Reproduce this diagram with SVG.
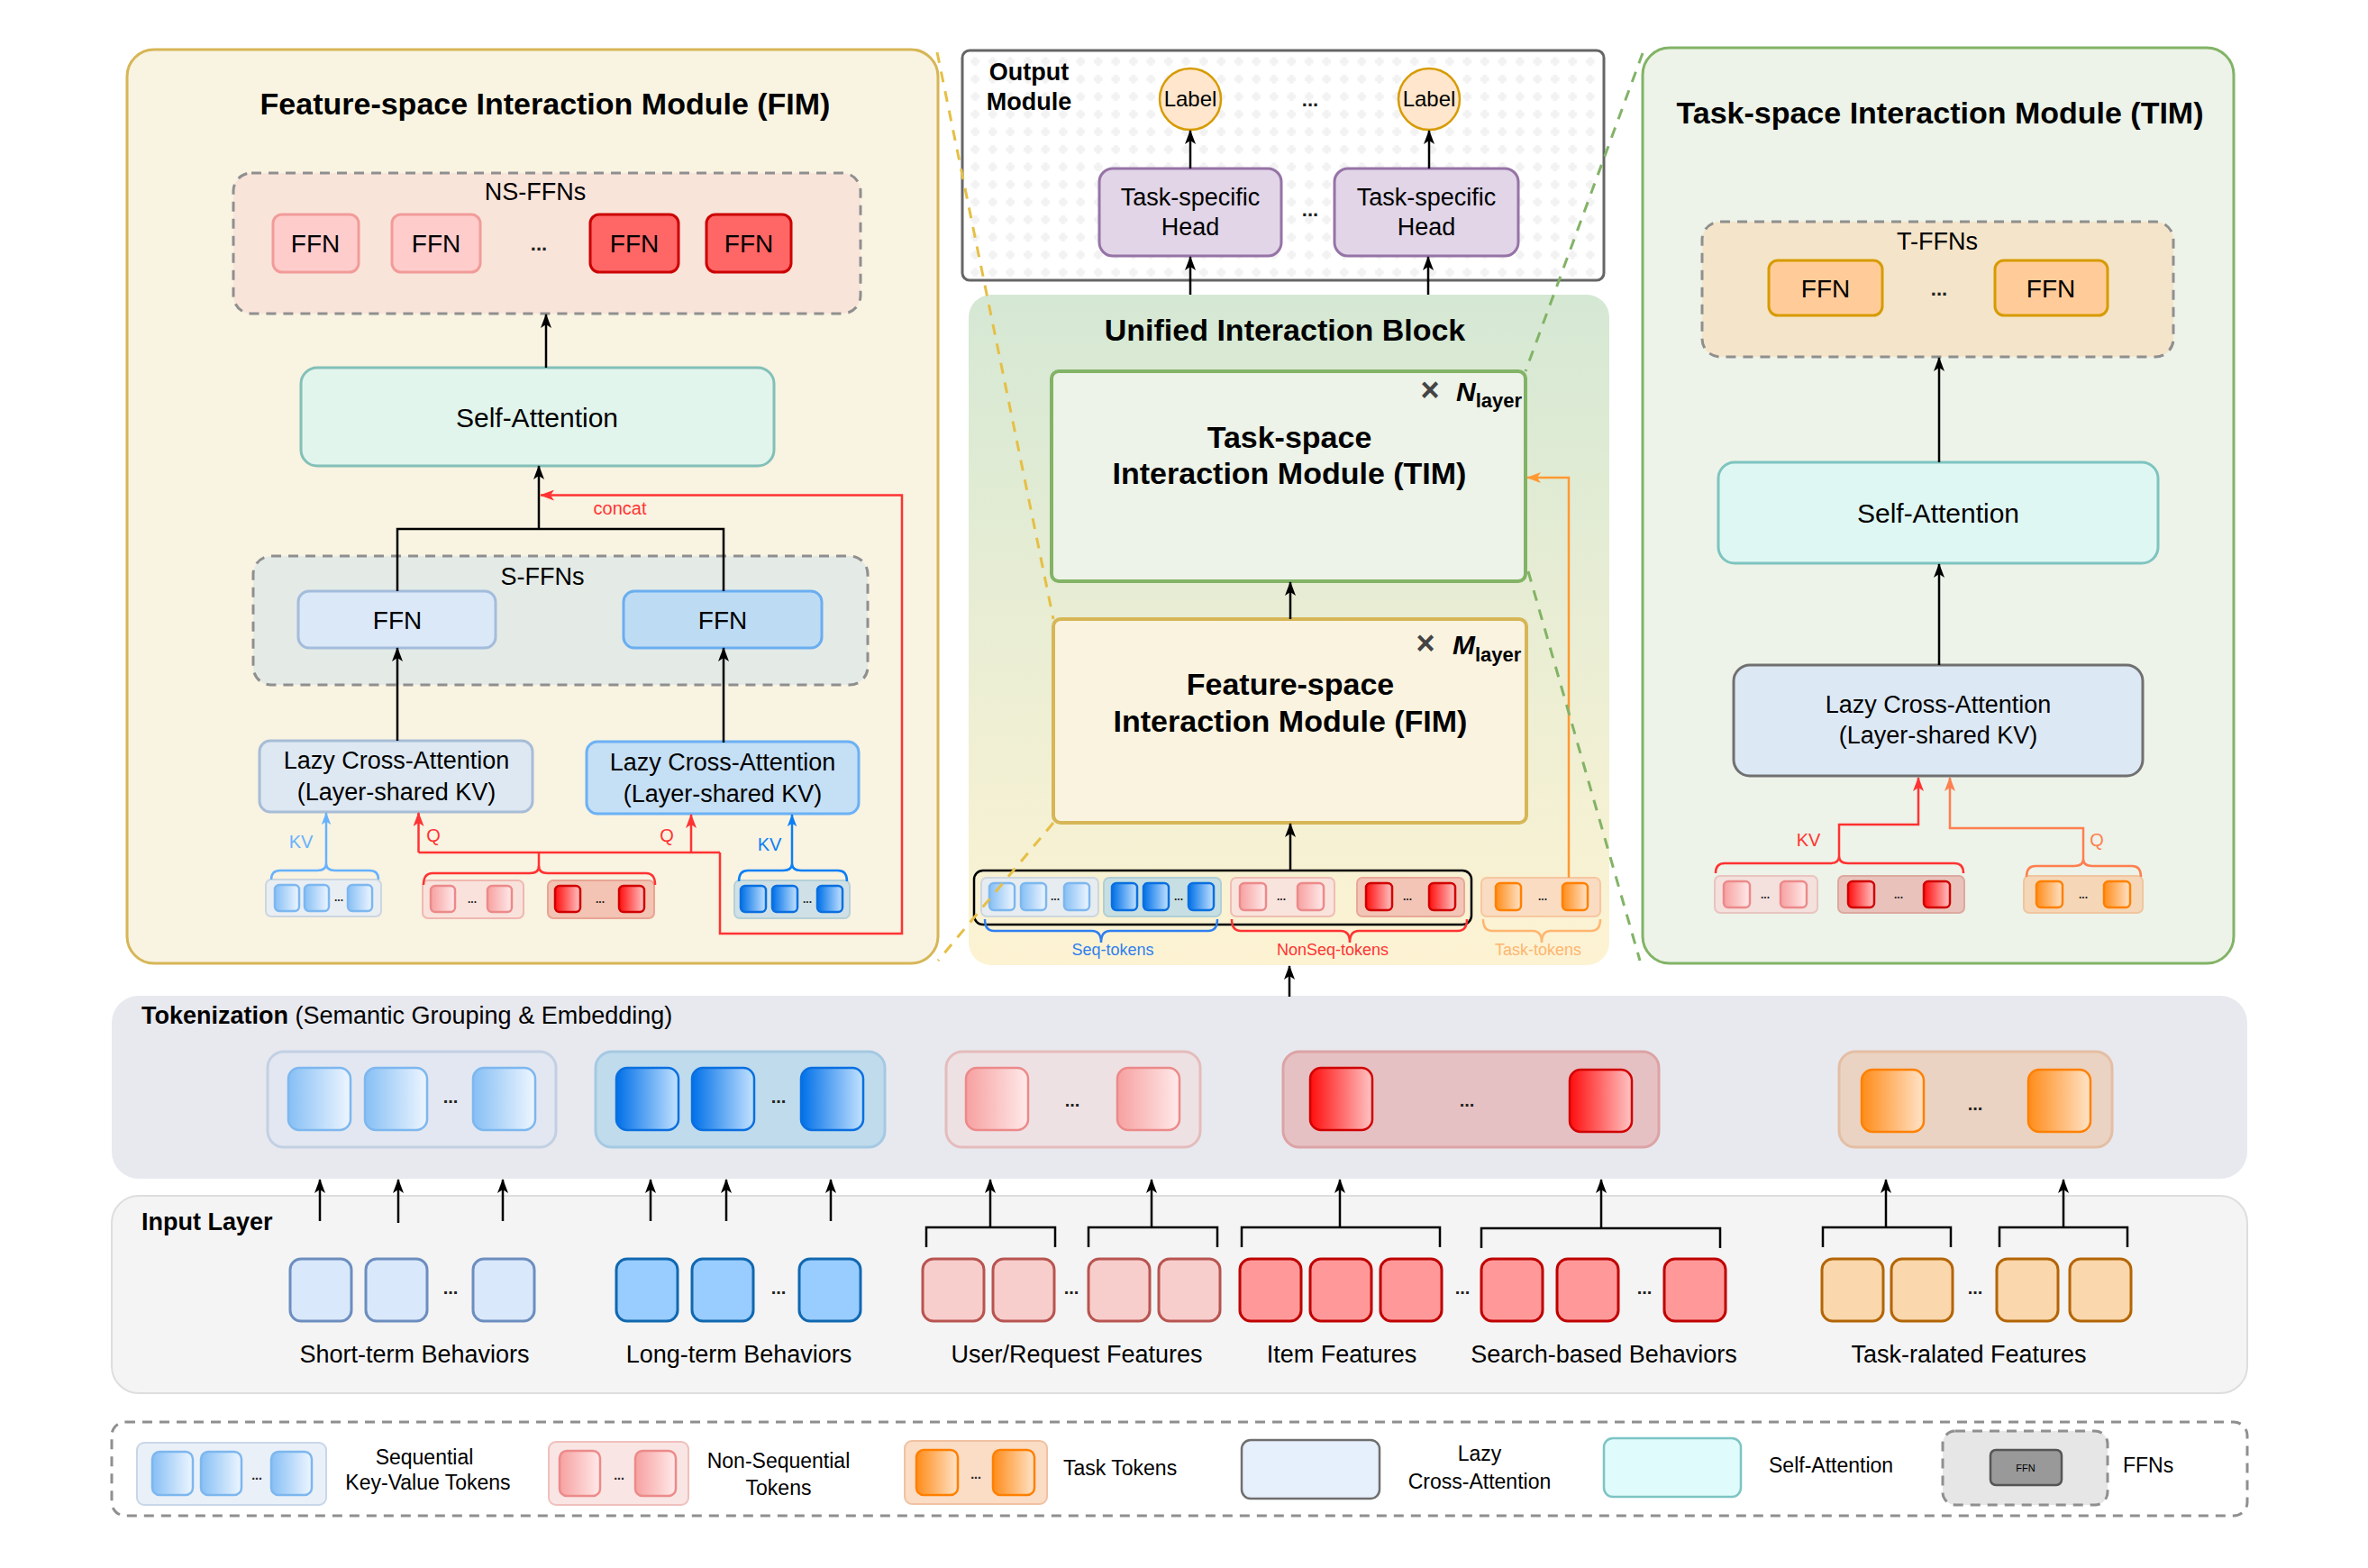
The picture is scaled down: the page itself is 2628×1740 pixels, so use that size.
<svg xmlns="http://www.w3.org/2000/svg" width="2628" height="1740" viewBox="0 0 2628 1740">
<defs>
<linearGradient id="gSS"><stop offset="0" stop-color="#86bff5"/><stop offset="1" stop-color="#eef6ff"/></linearGradient>
<linearGradient id="gSL"><stop offset="0" stop-color="#0070e8"/><stop offset="1" stop-color="#c3e2ff"/></linearGradient>
<linearGradient id="gNL"><stop offset="0" stop-color="#f7a0a0"/><stop offset="1" stop-color="#ffeaea"/></linearGradient>
<linearGradient id="gND"><stop offset="0" stop-color="#ff0d0d"/><stop offset="1" stop-color="#ffc4c4"/></linearGradient>
<linearGradient id="gT"><stop offset="0" stop-color="#ff8c1a"/><stop offset="1" stop-color="#ffe3c7"/></linearGradient>
<linearGradient id="gUIB" x1="0" y1="0" x2="0" y2="1"><stop offset="0" stop-color="#d5e8d4"/><stop offset="1" stop-color="#fdf3d3"/></linearGradient>
<pattern id="grid" width="19.5" height="19.5" patternUnits="userSpaceOnUse"><rect width="19.5" height="19.5" fill="#fff"/><rect x="7.5" y="5" width="4.5" height="9.5" fill="#f2f2f2"/><rect x="5" y="7.5" width="9.5" height="4.5" fill="#f2f2f2"/></pattern>
<marker id="ak" viewBox="0 0 16 12" refX="15" refY="6" markerWidth="16" markerHeight="12" markerUnits="userSpaceOnUse" orient="auto"><path d="M0,0 L16,6 L0,12 L4,6 Z" fill="#000"/></marker>
<marker id="ar" viewBox="0 0 16 12" refX="15" refY="6" markerWidth="16" markerHeight="12" markerUnits="userSpaceOnUse" orient="auto"><path d="M0,0 L16,6 L0,12 L4,6 Z" fill="#ff3333"/></marker>
<marker id="ab" viewBox="0 0 16 12" refX="15" refY="6" markerWidth="14" markerHeight="11" markerUnits="userSpaceOnUse" orient="auto"><path d="M0,0 L16,6 L0,12 L4,6 Z" fill="#66b2ff"/></marker>
<marker id="abd" viewBox="0 0 16 12" refX="15" refY="6" markerWidth="14" markerHeight="11" markerUnits="userSpaceOnUse" orient="auto"><path d="M0,0 L16,6 L0,12 L4,6 Z" fill="#0a7ff5"/></marker>
<marker id="ao" viewBox="0 0 16 12" refX="15" refY="6" markerWidth="16" markerHeight="12" markerUnits="userSpaceOnUse" orient="auto"><path d="M0,0 L16,6 L0,12 L4,6 Z" fill="#ff9933"/></marker>
<marker id="ac" viewBox="0 0 16 12" refX="15" refY="6" markerWidth="16" markerHeight="12" markerUnits="userSpaceOnUse" orient="auto"><path d="M0,0 L16,6 L0,12 L4,6 Z" fill="#ff7f50"/></marker>
</defs>
<style>
text{font-family:"Liberation Sans",Arial,Helvetica,sans-serif;fill:#000}
.b{font-weight:bold}
.c{text-anchor:middle}
.dots{font-weight:bold;text-anchor:middle;fill:#222}
.tSS{fill:url(#gSS);stroke:#7db7ef;stroke-width:2.5}
.tSL{fill:url(#gSL);stroke:#0a6fe0;stroke-width:2.5}
.tNL{fill:url(#gNL);stroke:#ec8a8a;stroke-width:2.5}
.tND{fill:url(#gND);stroke:#d00000;stroke-width:2.5}
.tT{fill:url(#gT);stroke:#ff8000;stroke-width:2.5}
.dash{stroke:#8f8f8f;stroke-width:3;stroke-dasharray:11 8}
.k{stroke:#000;stroke-width:2.5;fill:none}
.ka{stroke:#000;stroke-width:2.5;fill:none;marker-end:url(#ak)}
.ra{stroke:#ff3333;stroke-width:2.5;fill:none}
.in1{fill:#dae8fc;stroke:#6c8ebf;stroke-width:3}
.in2{fill:#99ccff;stroke:#1068b0;stroke-width:3}
.in3{fill:#f8cecc;stroke:#b85450;stroke-width:3}
.in4{fill:#ff9999;stroke:#c00000;stroke-width:3}
.in5{fill:#fad7ac;stroke:#b46504;stroke-width:3}
.lab{font-size:27px}
</style>
<rect width="2628" height="1740" fill="#fff"/>

<g id="tokenization">
<rect x="124" y="1105" width="2370" height="203" rx="30" fill="#e8e9ef"/>
<text x="157" y="1136" font-size="27"><tspan class="b">Tokenization</tspan> (Semantic Grouping &amp; Embedding)</text>
<rect x="297" y="1167" width="320" height="106" rx="18" fill="#e2e7f1" stroke="#c2d0e3" stroke-width="3"/>
<rect class="tSS" x="320" y="1185" width="69" height="69" rx="12"/><rect class="tSS" x="405" y="1185" width="69" height="69" rx="12"/><rect class="tSS" x="525" y="1185" width="69" height="69" rx="12"/>
<text class="dots" x="500" y="1224" font-size="20">...</text>
<rect x="661" y="1167" width="321" height="106" rx="18" fill="#bfdbec" stroke="#a5c9e2" stroke-width="3"/>
<rect class="tSL" x="684" y="1185" width="69" height="69" rx="12"/><rect class="tSL" x="768" y="1185" width="69" height="69" rx="12"/><rect class="tSL" x="889" y="1185" width="69" height="69" rx="12"/>
<text class="dots" x="864" y="1224" font-size="20">...</text>
<rect x="1050" y="1167" width="282" height="106" rx="18" fill="#eee1e4" stroke="#e4bcbc" stroke-width="3"/>
<rect class="tNL" x="1072" y="1185" width="69" height="69" rx="12"/><rect class="tNL" x="1240" y="1185" width="69" height="69" rx="12"/>
<text class="dots" x="1190" y="1228" font-size="20">...</text>
<rect x="1424" y="1167" width="417" height="106" rx="18" fill="#e6c1c3" stroke="#dca3a5" stroke-width="3"/>
<rect class="tND" x="1454" y="1185" width="69" height="69" rx="12"/><rect class="tND" x="1742" y="1187" width="69" height="69" rx="12"/>
<text class="dots" x="1628" y="1228" font-size="20">...</text>
<rect x="2041" y="1167" width="303" height="106" rx="18" fill="#ead3c2" stroke="#e4bea4" stroke-width="3"/>
<rect class="tT" x="2066" y="1187" width="69" height="69" rx="12"/><rect class="tT" x="2251" y="1187" width="69" height="69" rx="12"/>
<text class="dots" x="2192" y="1232" font-size="20">...</text>
</g>

<g id="input-layer">
<rect x="124" y="1327" width="2370" height="219" rx="30" fill="#f4f4f4" stroke="#dedede" stroke-width="2"/>
<text x="157" y="1365" class="b" font-size="27">Input Layer</text>
<rect class="in1" x="322" y="1397" width="68" height="69" rx="12"/><rect class="in1" x="406" y="1397" width="68" height="69" rx="12"/><rect class="in1" x="525" y="1397" width="68" height="69" rx="12"/>
<text class="dots" x="500" y="1436" font-size="20">...</text>
<rect class="in2" x="684" y="1397" width="68" height="69" rx="12"/><rect class="in2" x="768" y="1397" width="68" height="69" rx="12"/><rect class="in2" x="887" y="1397" width="68" height="69" rx="12"/>
<text class="dots" x="864" y="1436" font-size="20">...</text>
<rect class="in3" x="1024" y="1397" width="68" height="69" rx="12"/><rect class="in3" x="1102" y="1397" width="68" height="69" rx="12"/><rect class="in3" x="1208" y="1397" width="68" height="69" rx="12"/><rect class="in3" x="1286" y="1397" width="68" height="69" rx="12"/>
<text class="dots" x="1189" y="1436" font-size="20">...</text>
<rect class="in4" x="1376" y="1397" width="68" height="69" rx="12"/><rect class="in4" x="1454" y="1397" width="68" height="69" rx="12"/><rect class="in4" x="1532" y="1397" width="68" height="69" rx="12"/>
<text class="dots" x="1623" y="1436" font-size="20">...</text>
<rect class="in4" x="1644" y="1397" width="68" height="69" rx="12"/><rect class="in4" x="1728" y="1397" width="68" height="69" rx="12"/><rect class="in4" x="1847" y="1397" width="68" height="69" rx="12"/>
<text class="dots" x="1825" y="1436" font-size="20">...</text>
<rect class="in5" x="2022" y="1397" width="68" height="69" rx="12"/><rect class="in5" x="2099" y="1397" width="68" height="69" rx="12"/><rect class="in5" x="2216" y="1397" width="68" height="69" rx="12"/><rect class="in5" x="2297" y="1397" width="68" height="69" rx="12"/>
<text class="dots" x="2192" y="1436" font-size="20">...</text>
<text class="lab c" x="460" y="1512">Short-term Behaviors</text>
<text class="lab c" x="820" y="1512">Long-term Behaviors</text>
<text class="lab c" x="1195" y="1512">User/Request Features</text>
<text class="lab c" x="1489" y="1512">Item Features</text>
<text class="lab c" x="1780" y="1512">Search-based Behaviors</text>
<text class="lab c" x="2185" y="1512">Task-ralated Features</text>
</g>

<g id="legend">
<rect x="124" y="1578" width="2370" height="104" rx="15" fill="none" class="dash"/>
<rect x="152" y="1601" width="210" height="69" rx="8" fill="#eaf0f8" stroke="#c8d6e8" stroke-width="2"/>
<rect class="tSS" x="169" y="1611" width="45" height="48" rx="8"/><rect class="tSS" x="223" y="1611" width="45" height="48" rx="8"/><rect class="tSS" x="301" y="1611" width="45" height="48" rx="8"/>
<text class="dots" x="285" y="1642" font-size="14">...</text>
<text class="c" x="471" y="1625" font-size="23">Sequential</text>
<text class="c" x="475" y="1653" font-size="23">Key-Value Tokens</text>
<rect x="609" y="1600" width="155" height="70" rx="8" fill="#f9e5e4" stroke="#efc0bd" stroke-width="2"/>
<rect class="tNL" x="621" y="1610" width="45" height="50" rx="8"/><rect class="tNL" x="705" y="1610" width="45" height="50" rx="8"/>
<text class="dots" x="687" y="1642" font-size="14">...</text>
<text class="c" x="864" y="1629" font-size="23">Non-Sequential</text>
<text class="c" x="864" y="1659" font-size="23">Tokens</text>
<rect x="1004" y="1599" width="158" height="70" rx="8" fill="#fbdcc5" stroke="#f0c2a2" stroke-width="2"/>
<rect class="tT" x="1017" y="1609" width="46" height="50" rx="8"/><rect class="tT" x="1102" y="1609" width="46" height="50" rx="8"/>
<text class="dots" x="1083" y="1641" font-size="14">...</text>
<text x="1180" y="1637" font-size="23">Task Tokens</text>
<rect x="1378" y="1598" width="153" height="65" rx="10" fill="#e6effc" stroke="#6f6f6f" stroke-width="2.5"/>
<text class="c" x="1642" y="1621" font-size="23">Lazy</text>
<text class="c" x="1642" y="1652" font-size="23">Cross-Attention</text>
<rect x="1780" y="1596" width="152" height="65" rx="10" fill="#e0fbfb" stroke="#7ec4c4" stroke-width="2.5"/>
<text x="1963" y="1634" font-size="23">Self-Attention</text>
<rect x="2156" y="1588" width="183" height="82" rx="14" fill="#e6e6e6" class="dash"/>
<rect x="2209" y="1609" width="79" height="39" rx="6" fill="#999" stroke="#555" stroke-width="2.5"/>
<text class="c" x="2248" y="1633" font-size="11">FFN</text>
<text x="2356" y="1634" font-size="23">FFNs</text>
</g>

<g id="fim-panel">
<rect x="141" y="55" width="900" height="1014" rx="30" fill="#f9f3e1" stroke="#d6b656" stroke-width="3"/>
<text class="b c" x="605" y="127" font-size="34">Feature-space Interaction Module (FIM)</text>
<g id="ns-ffns">
<rect x="259" y="192" width="696" height="156" rx="20" fill="#f9e4da" class="dash"/>
<text class="c" x="594" y="222" font-size="27">NS-FFNs</text>
<rect x="303" y="238" width="95" height="64" rx="10" fill="#ffcccc" stroke="#f19c99" stroke-width="3"/>
<rect x="435" y="238" width="98" height="64" rx="10" fill="#ffcccc" stroke="#f19c99" stroke-width="3"/>
<rect x="655" y="238" width="98" height="64" rx="10" fill="#ff6666" stroke="#cc0000" stroke-width="3"/>
<rect x="784" y="238" width="94" height="64" rx="10" fill="#ff6666" stroke="#cc0000" stroke-width="3"/>
<text class="c" x="350" y="280" font-size="28">FFN</text>
<text class="c" x="484" y="280" font-size="28">FFN</text>
<text class="c" x="704" y="280" font-size="28">FFN</text>
<text class="c" x="831" y="280" font-size="28">FFN</text>
<text class="dots" x="598" y="278" font-size="22">...</text>
</g>
<g id="fim-self-attention">
<rect x="334" y="408" width="525" height="109" rx="18" fill="#e2f5ec" stroke="#82c0b8" stroke-width="3"/>
<text class="c" x="596" y="474" font-size="30">Self-Attention</text>
</g>
<g id="s-ffns">
<rect x="281" y="617" width="682" height="143" rx="20" fill="#e4eae6" class="dash"/>
<text class="c" x="602" y="649" font-size="27">S-FFNs</text>
<rect x="331" y="656" width="219" height="63" rx="12" fill="#dae8f8" stroke="#a4bcdc" stroke-width="3"/>
<text class="c" x="441" y="698" font-size="28">FFN</text>
<rect x="692" y="656" width="220" height="63" rx="12" fill="#bddcf4" stroke="#6aaef0" stroke-width="3"/>
<text class="c" x="802" y="698" font-size="28">FFN</text>
</g>
<g id="fim-lca-1">
<rect x="288" y="822" width="303" height="79" rx="12" fill="#dde8f2" stroke="#a7bcd6" stroke-width="3"/>
<text class="c" x="440" y="853" font-size="27">Lazy Cross-Attention</text>
<text class="c" x="440" y="888" font-size="27">(Layer-shared KV)</text>
</g>
<g id="fim-lca-2">
<rect x="651" y="823" width="302" height="80" rx="12" fill="#c5dff4" stroke="#6cb1f5" stroke-width="3"/>
<text class="c" x="802" y="855" font-size="27">Lazy Cross-Attention</text>
<text class="c" x="802" y="890" font-size="27">(Layer-shared KV)</text>
</g>
<g id="fim-tokens">
<rect x="295" y="976" width="128" height="41" rx="6" fill="#e9eef3" stroke="#cbd6e0" stroke-width="2"/>
<rect class="tSS" x="305" y="982" width="27" height="29" rx="5"/><rect class="tSS" x="338" y="982" width="27" height="29" rx="5"/><rect class="tSS" x="386" y="982" width="27" height="29" rx="5"/>
<text class="dots" x="376" y="1000" font-size="12">...</text>
<rect x="469" y="977" width="112" height="42" rx="6" fill="#f9e2dc" stroke="#efb8b0" stroke-width="2"/>
<rect class="tNL" x="478" y="983" width="27" height="29" rx="5"/><rect class="tNL" x="541" y="983" width="27" height="29" rx="5"/>
<text class="dots" x="524" y="1002" font-size="12">...</text>
<rect x="608" y="977" width="118" height="42" rx="6" fill="#f3c3b3" stroke="#e8a595" stroke-width="2"/>
<rect class="tND" x="616" y="983" width="28" height="29" rx="5"/><rect class="tND" x="687" y="983" width="28" height="29" rx="5"/>
<text class="dots" x="666" y="1002" font-size="12">...</text>
<rect x="815" y="977" width="128" height="42" rx="6" fill="#cfe1e6" stroke="#b6d0d7" stroke-width="2"/>
<rect class="tSL" x="822" y="983" width="28" height="29" rx="5"/><rect class="tSL" x="857" y="983" width="28" height="29" rx="5"/><rect class="tSL" x="907" y="983" width="28" height="29" rx="5"/>
<text class="dots" x="896" y="1002" font-size="12">...</text>
</g>
<text x="688" y="571" class="c" font-size="20" style="fill:#ff3333">concat</text>
<text x="334" y="941" class="c" font-size="20" style="fill:#66b2ff">KV</text>
<text x="481" y="934" class="c" font-size="20" style="fill:#ff3333">Q</text>
<text x="740" y="934" class="c" font-size="20" style="fill:#ff3333">Q</text>
<text x="854" y="944" class="c" font-size="20" style="fill:#0a7ff5">KV</text>
</g>

<g id="output-module">
<rect x="1068" y="56" width="712" height="255" rx="8" fill="url(#grid)" stroke="#666" stroke-width="3"/>
<text class="b c" x="1142" y="89" font-size="27">Output</text>
<text class="b c" x="1142" y="122" font-size="27">Module</text>
<g id="label-1"><circle cx="1321" cy="110" r="34" fill="#ffe6cc" stroke="#d79b00" stroke-width="2.5"/><text class="c" x="1321" y="118" font-size="24">Label</text></g>
<g id="label-2"><circle cx="1586" cy="110" r="34" fill="#ffe6cc" stroke="#d79b00" stroke-width="2.5"/><text class="c" x="1586" y="118" font-size="24">Label</text></g>
<text class="dots" x="1454" y="118" font-size="22">...</text>
<g id="head-1"><rect x="1220" y="187" width="202" height="97" rx="15" fill="#e1d5e7" stroke="#9673a6" stroke-width="3"/>
<text class="c" x="1321" y="228" font-size="27">Task-specific</text><text class="c" x="1321" y="261" font-size="27">Head</text></g>
<g id="head-2"><rect x="1481" y="187" width="204" height="97" rx="15" fill="#e1d5e7" stroke="#9673a6" stroke-width="3"/>
<text class="c" x="1583" y="228" font-size="27">Task-specific</text><text class="c" x="1583" y="261" font-size="27">Head</text></g>
<text class="dots" x="1454" y="240" font-size="22">...</text>
</g>

<g id="unified-interaction-block">
<rect x="1075" y="327" width="711" height="744" rx="25" fill="url(#gUIB)"/>
<text class="b c" x="1426" y="378" font-size="34">Unified Interaction Block</text>
<g id="uib-tim">
<rect x="1167" y="412" width="526" height="233" rx="8" fill="#edf3e8" stroke="#82b366" stroke-width="4"/>
<text class="b c" x="1587" y="445" font-size="36" style="fill:#444">×</text>
<text class="b" x="1616" y="445" font-size="30" font-style="italic">N<tspan font-size="22" font-style="normal" dy="7">layer</tspan></text>
<text class="b c" x="1431" y="497" font-size="34">Task-space</text>
<text class="b c" x="1431" y="537" font-size="34">Interaction Module (TIM)</text>
</g>
<g id="uib-fim">
<rect x="1169" y="687" width="525" height="226" rx="8" fill="#faf3e0" stroke="#d6b656" stroke-width="4"/>
<text class="b c" x="1582" y="726" font-size="36" style="fill:#444">×</text>
<text class="b" x="1612" y="726" font-size="30" font-style="italic">M<tspan font-size="22" font-style="normal" dy="8">layer</tspan></text>
<text class="b c" x="1432" y="771" font-size="34">Feature-space</text>
<text class="b c" x="1432" y="812" font-size="34">Interaction Module (FIM)</text>
</g>
<g id="uib-tokens">
<rect x="1081" y="966" width="552" height="60" rx="10" fill="none" stroke="#000" stroke-width="2.5"/>
<rect x="1089" y="974" width="130" height="43" rx="6" fill="#e6ecf0" stroke="#cdd7df" stroke-width="2"/>
<rect class="tSS" x="1098" y="980" width="28" height="30" rx="5"/><rect class="tSS" x="1133" y="980" width="28" height="30" rx="5"/><rect class="tSS" x="1181" y="980" width="28" height="30" rx="5"/>
<text class="dots" x="1171" y="999" font-size="12">...</text>
<rect x="1225" y="974" width="130" height="43" rx="6" fill="#c7dfe3" stroke="#b0cfd6" stroke-width="2"/>
<rect class="tSL" x="1234" y="980" width="28" height="30" rx="5"/><rect class="tSL" x="1269" y="980" width="28" height="30" rx="5"/><rect class="tSL" x="1319" y="980" width="28" height="30" rx="5"/>
<text class="dots" x="1308" y="999" font-size="12">...</text>
<rect x="1366" y="974" width="115" height="43" rx="6" fill="#f9e3dd" stroke="#efbdb4" stroke-width="2"/>
<rect class="tNL" x="1376" y="980" width="29" height="30" rx="5"/><rect class="tNL" x="1440" y="980" width="29" height="30" rx="5"/>
<text class="dots" x="1422" y="999" font-size="12">...</text>
<rect x="1506" y="974" width="119" height="43" rx="6" fill="#f3c5b6" stroke="#e9a898" stroke-width="2"/>
<rect class="tND" x="1516" y="980" width="29" height="30" rx="5"/><rect class="tND" x="1586" y="980" width="29" height="30" rx="5"/>
<text class="dots" x="1562" y="999" font-size="12">...</text>
<rect x="1644" y="974" width="132" height="43" rx="6" fill="#fadcc2" stroke="#f6c7a0" stroke-width="2"/>
<rect class="tT" x="1660" y="980" width="28" height="30" rx="5"/><rect class="tT" x="1734" y="980" width="28" height="30" rx="5"/>
<text class="dots" x="1712" y="999" font-size="12">...</text>
<text class="c" x="1235" y="1060" font-size="18" style="fill:#2f7fef">Seq-tokens</text>
<text class="c" x="1479" y="1060" font-size="18" style="fill:#ff3333">NonSeq-tokens</text>
<text class="c" x="1707" y="1060" font-size="18" style="fill:#ffb570">Task-tokens</text>
</g>
</g>

<g id="tim-panel">
<rect x="1823" y="53" width="656" height="1016" rx="30" fill="#edf3e8" stroke="#82b366" stroke-width="3"/>
<text class="b c" x="2153" y="137" font-size="34">Task-space Interaction Module (TIM)</text>
<g id="t-ffns">
<rect x="1889" y="246" width="523" height="150" rx="20" fill="#f4e4c9" class="dash"/>
<text class="c" x="2150" y="277" font-size="27">T-FFNs</text>
<rect x="1963" y="289" width="126" height="61" rx="10" fill="#ffcc99" stroke="#d79b00" stroke-width="3"/>
<text class="c" x="2026" y="330" font-size="28">FFN</text>
<rect x="2214" y="289" width="125" height="61" rx="10" fill="#ffcc99" stroke="#d79b00" stroke-width="3"/>
<text class="c" x="2276" y="330" font-size="28">FFN</text>
<text class="dots" x="2152" y="328" font-size="22">...</text>
</g>
<g id="tim-self-attention">
<rect x="1907" y="513" width="488" height="112" rx="18" fill="#dff7f3" stroke="#7ec4c0" stroke-width="3"/>
<text class="c" x="2151" y="580" font-size="30">Self-Attention</text>
</g>
<g id="tim-lca">
<rect x="1924" y="738" width="454" height="123" rx="18" fill="#dce8f4" stroke="#707070" stroke-width="3"/>
<text class="c" x="2151" y="791" font-size="27">Lazy Cross-Attention</text>
<text class="c" x="2151" y="825" font-size="27">(Layer-shared KV)</text>
</g>
<g id="tim-tokens">
<rect x="1903" y="972" width="114" height="41" rx="6" fill="#f4e0dd" stroke="#e8c4c0" stroke-width="2"/>
<rect class="tNL" x="1913" y="978" width="29" height="29" rx="5"/><rect class="tNL" x="1976" y="978" width="29" height="29" rx="5"/>
<text class="dots" x="1959" y="997" font-size="12">...</text>
<rect x="2040" y="972" width="140" height="41" rx="6" fill="#e9c3bb" stroke="#dca89f" stroke-width="2"/>
<rect class="tND" x="2051" y="978" width="29" height="29" rx="5"/><rect class="tND" x="2135" y="978" width="29" height="29" rx="5"/>
<text class="dots" x="2107" y="997" font-size="12">...</text>
<rect x="2246" y="972" width="132" height="41" rx="6" fill="#f5d7b8" stroke="#efc59f" stroke-width="2"/>
<rect class="tT" x="2260" y="978" width="29" height="29" rx="5"/><rect class="tT" x="2335" y="978" width="29" height="29" rx="5"/>
<text class="dots" x="2312" y="997" font-size="12">...</text>
</g>
<text x="2007" y="939" class="c" font-size="20" style="fill:#ff3333">KV</text>
<text x="2327" y="939" class="c" font-size="20" style="fill:#ff7f50">Q</text>
</g>

<g id="connectors">
<!-- FIM panel -->
<path class="ka" d="M606,408 V349"/>
<path class="ka" d="M598,587 V517"/>
<path class="k" d="M441,656 V587 H803 V656"/>
<path class="ka" d="M441,822 V719"/>
<path class="ka" d="M803,824 V719"/>
<path class="ra" d="M799,946 V1036 H1001 V549.6 H600" marker-end="url(#ar)"/>
<path class="ra" d="M464.5,946 H799"/>
<path class="ra" d="M464.5,946 V902" marker-end="url(#ar)"/>
<path class="ra" d="M767,946 V904" marker-end="url(#ar)"/>
<path class="ra" d="M598,946 V962"/>
<path class="ra" d="M470,982 Q470,969 480,969 L588,969 Q598,969 598,961 Q598,969 608,969 L717,969 Q727,969 727,982"/>
<path d="M301,976 Q301,966 311,966 L352,966 Q362,966 362,958 Q362,966 372,966 L410,966 Q420,966 420,976" fill="none" stroke="#66b2ff" stroke-width="2.5"/>
<path d="M362,958 V902" fill="none" stroke="#66b2ff" stroke-width="2.5" marker-end="url(#ab)"/>
<path d="M820,978 Q820,966 830,966 L869,966 Q879,966 879,958 Q879,966 889,966 L930,966 Q940,966 940,978" fill="none" stroke="#0a7ff5" stroke-width="2.5"/>
<path d="M879,958 V904" fill="none" stroke="#0a7ff5" stroke-width="2.5" marker-end="url(#abd)"/>
<!-- Output module -->
<path class="ka" d="M1321,187 V145"/>
<path class="ka" d="M1586,187 V145"/>
<path class="ka" d="M1321,327 V285"/>
<path class="ka" d="M1585,327 V285"/>
<!-- UIB -->
<path class="ka" d="M1432,687 V646"/>
<path class="ka" d="M1432,966 V914"/>
<path d="M1741,974 V530 H1695" fill="none" stroke="#ff9933" stroke-width="2.5" marker-end="url(#ao)"/>
<path d="M1093,1020 Q1093,1033 1103,1033 L1212,1033 Q1222,1033 1222,1046 Q1222,1033 1232,1033 L1341,1033 Q1351,1033 1351,1020" fill="none" stroke="#2f7fef" stroke-width="2.5"/>
<path d="M1367,1020 Q1367,1033 1377,1033 L1488,1033 Q1498,1033 1498,1046 Q1498,1033 1508,1033 L1618,1033 Q1628,1033 1628,1020" fill="none" stroke="#ff3333" stroke-width="2.5"/>
<path d="M1646,1020 Q1646,1033 1656,1033 L1701,1033 Q1711,1033 1711,1046 Q1711,1033 1721,1033 L1766,1033 Q1776,1033 1776,1020" fill="none" stroke="#ffb570" stroke-width="2.5"/>
<path class="ka" d="M1431,1106 V1072"/>
<!-- TIM panel -->
<path class="ka" d="M2152,513 V397"/>
<path class="ka" d="M2152,738 V626"/>
<path class="ra" d="M1904,969 Q1904,958 1914,958 L2031,958 Q2041,958 2041,950 Q2041,958 2051,958 L2169,958 Q2179,958 2179,969"/>
<path class="ra" d="M2041,950 V915 H2129 V863" marker-end="url(#ar)"/>
<path d="M2249,973 Q2249,961 2259,961 L2302,961 Q2312,961 2312,953 Q2312,961 2322,961 L2366,961 Q2376,961 2376,973" fill="none" stroke="#ff7f50" stroke-width="2.5"/>
<path d="M2312,953 V919 H2164 V863" fill="none" stroke="#ff7f50" stroke-width="2.5" marker-end="url(#ac)"/>
<!-- Input to tokenization -->
<path class="ka" d="M355,1355 V1309"/>
<path class="ka" d="M442,1357 V1309"/>
<path class="ka" d="M558,1355 V1309"/>
<path class="ka" d="M722,1355 V1309"/>
<path class="ka" d="M806,1355 V1309"/>
<path class="ka" d="M922,1355 V1309"/>
<path class="k" d="M1028,1384 V1362 H1171 V1384"/><path class="ka" d="M1099,1362 V1309"/>
<path class="k" d="M1208,1384 V1362 H1351 V1384"/><path class="ka" d="M1278,1362 V1309"/>
<path class="k" d="M1378,1384 V1362 H1598 V1384"/><path class="ka" d="M1487,1362 V1309"/>
<path class="k" d="M1644,1385 V1363 H1909 V1385"/><path class="ka" d="M1777,1363 V1309"/>
<path class="k" d="M2023,1384 V1362 H2165 V1384"/><path class="ka" d="M2093,1362 V1309"/>
<path class="k" d="M2219,1384 V1362 H2361 V1384"/><path class="ka" d="M2290,1362 V1309"/>
<!-- zoom guide lines -->
<path d="M1040,58 L1169,687 M1169,913 L1041,1066" fill="none" stroke="#e6bf45" stroke-width="3" stroke-dasharray="12 10"/>
<path d="M1823,59 L1693,412 M1696,634 L1820,1066" fill="none" stroke="#82b366" stroke-width="3" stroke-dasharray="12 10"/>
</g>
</svg>
